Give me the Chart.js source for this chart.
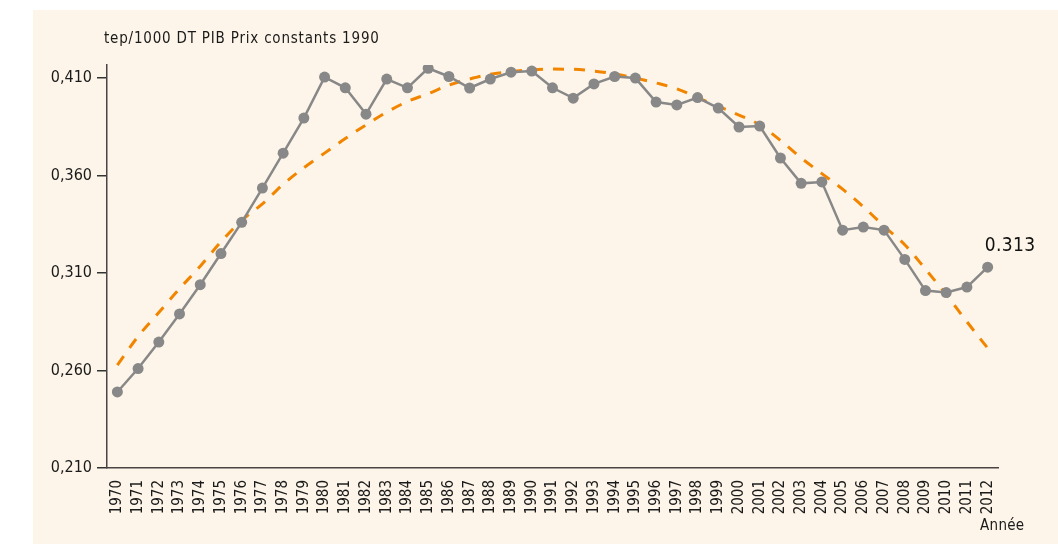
<!DOCTYPE html>
<html>
<head>
<meta charset="utf-8">
<script src="https://cdn.jsdelivr.net/npm/chart.js@4"></script>
<style>
  html, body { margin: 0; padding: 0; background: #ffffff; }
  #box { position: absolute; left: 33px; top: 10px; width: 1025px; height: 534px; background: #fdf5e9; }
  #box canvas { display: block; }
</style>
</head>
<body>
<div id="box"><canvas id="intensite" width="1025" height="534"></canvas></div>
<script>
const years = [];
for (let y = 1970; y <= 2012; y++) years.push(String(y));

// intensité énergétique, tep/1000 DT PIB
const intensite = [
  0.249, 0.261, 0.2746, 0.289, 0.304, 0.320, 0.336, 0.3536, 0.3715, 0.3895,
  0.4105, 0.405, 0.3915, 0.4095, 0.405, 0.415, 0.4108, 0.4049, 0.4095, 0.413,
  0.4136, 0.405, 0.3997, 0.407, 0.4108, 0.410, 0.3977, 0.3962, 0.400, 0.3946,
  0.3849, 0.3854, 0.369, 0.356, 0.3567, 0.332, 0.3336, 0.332, 0.317, 0.301,
  0.300, 0.3028, 0.313
];

// courbe de tendance
const tendance = [
  0.2628, 0.2775, 0.2897, 0.302, 0.3135, 0.326, 0.337, 0.3455, 0.3555, 0.364,
  0.3715, 0.379, 0.386, 0.3925, 0.398, 0.402, 0.4064, 0.4095, 0.412, 0.4133,
  0.4142, 0.4146, 0.4145, 0.4136, 0.4122, 0.410, 0.4075, 0.4045, 0.400, 0.3955,
  0.391, 0.386, 0.378, 0.369, 0.361, 0.353, 0.344, 0.334, 0.3245, 0.312,
  0.299, 0.285, 0.2715
];

const yTicks = [0.21, 0.26, 0.31, 0.36, 0.41];
const yTickLabels = ['0,210', '0,260', '0,310', '0,360', '0,410'];
const lastLabel = '0.313';

const FONT = "'DejaVu Sans Condensed', sans-serif";

const textPlugin = {
  id: 'textPlugin',
  afterDatasetsDraw(chart) {
    const ctx = chart.ctx;
    const area = chart.chartArea;
    ctx.save();
    ctx.fillStyle = '#1a1a1a';
    ctx.textAlign = 'left';
    ctx.textBaseline = 'alphabetic';
    ctx.font = '15px ' + FONT;
    ctx.letterSpacing = '0.8px';
    ctx.fillText('tep/1000 DT PIB Prix constants 1990', area.left - 3, 33);
    ctx.letterSpacing = '0.3px';
    ctx.font = '15px ' + FONT;
    ctx.fillText('Année', area.right - 18, 520);

    const meta = chart.getDatasetMeta(0);
    const pt = meta.data[meta.data.length - 1];
    ctx.font = '19px ' + FONT;
    ctx.letterSpacing = '0.4px';
    ctx.fillStyle = '#111111';
    ctx.fillText(lastLabel, pt.x - 3, pt.y - 16);
    ctx.restore();
  }
};

new Chart(document.getElementById('intensite').getContext('2d'), {
  type: 'line',
  data: {
    labels: years,
    datasets: [
      {
        data: intensite,
        borderColor: '#888888',
        backgroundColor: '#888888',
        borderWidth: 2.5,
        pointRadius: 5.5,
        pointBorderWidth: 0,
        pointBackgroundColor: '#888888',
        tension: 0
      },
      {
        data: tendance,
        borderColor: '#f28500',
        borderWidth: 3,
        borderDash: [11, 10],
        pointRadius: 0,
        cubicInterpolationMode: 'monotone'
      }
    ]
  },
  options: {
    responsive: false,
    animation: false,
    layout: { padding: { left: 0, right: 60, top: 55, bottom: 0 } },
    plugins: { legend: { display: false }, tooltip: { enabled: false } },
    scales: {
      x: {
        offset: true,
        grid: { display: false, drawTicks: false },
        border: { display: true, color: '#4a4444', width: 1.5 },
        ticks: {
          autoSkip: false,
          minRotation: 90,
          maxRotation: 90,
          padding: 12,
          color: '#1a1a1a',
          font: { family: FONT, size: 15 }
        },
        afterFit(scale) { scale.height = 76; }
      },
      y: {
        min: 0.21,
        max: 0.4167,
        afterBuildTicks(scale) { scale.ticks = yTicks.map(v => ({ value: v })); },
        grid: { drawOnChartArea: false, drawTicks: true, tickLength: 10, color: '#333333', lineWidth: 1.5 },
        border: { display: true, color: '#4a4444', width: 1.5 },
        ticks: {
          padding: 5,
          color: '#1a1a1a',
          font: { family: FONT, size: 16 },
          callback(v, i) { return yTickLabels[i]; }
        },
        afterFit(scale) { scale.width = 74; }
      }
    }
  },
  plugins: [textPlugin]
});
</script>
</body>
</html>
